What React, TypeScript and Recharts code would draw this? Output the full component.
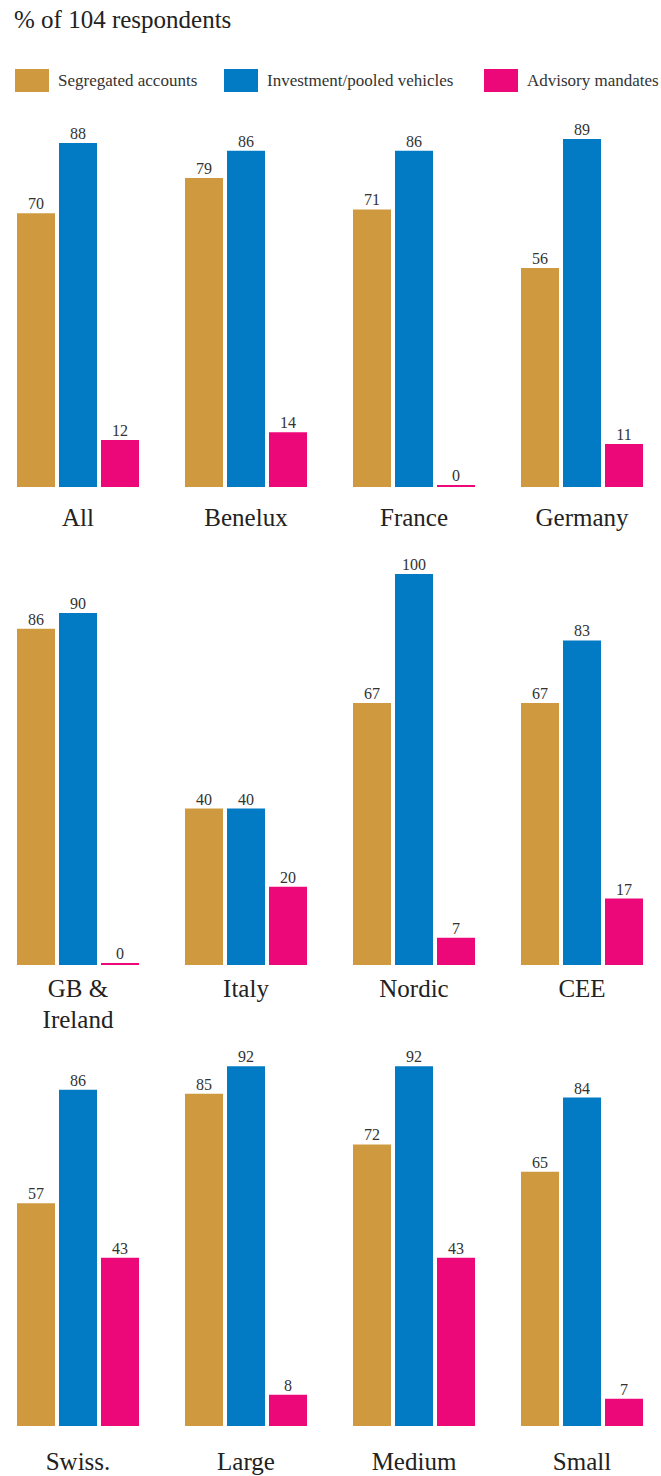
import { Bar, BarChart, LabelList, XAxis, YAxis } from "recharts";

const categories = ["All", "Benelux", "France", "Germany", "GB &\nIreland", "Italy", "Nordic", "CEE", "Swiss.", "Large", "Medium", "Small"];
const segregated = [70, 79, 71, 56, 86, 40, 67, 67, 57, 85, 72, 65];
const investment = [88, 86, 86, 89, 90, 40, 100, 83, 86, 92, 92, 84];
const advisory = [12, 14, 0, 11, 0, 20, 7, 17, 43, 8, 43, 7];

const seriesNames = ["Segregated accounts", "Investment/pooled vehicles", "Advisory mandates"];
const colors = ["#CF9A3F", "#027BC4", "#EC0879"];

const FONT = "'Liberation Serif', 'DejaVu Serif', 'Times New Roman', serif";

const rows = [
  { top: 60, labelDy: 31 },
  { top: 538, labelDy: 24 },
  { top: 999, labelDy: 36 },
];

const makeTick = (labelDy: number) => (props: any) => {
  const { x, y, payload } = props;
  const lines = String(payload.value).split("\n");
  return (
    <text x={x} y={y + labelDy} textAnchor="middle" fontSize={25} fill="#222" fontFamily={FONT}>
      {lines.map((line, i) => (
        <tspan key={line} x={x} dy={i === 0 ? 0 : 31}>
          {line}
        </tspan>
      ))}
    </text>
  );
};

export default function App() {
  const data = categories.map((name, i) => ({
    name,
    seg: segregated[i],
    inv: investment[i],
    adv: advisory[i],
  }));

  return (
    <div style={{ position: "relative", width: 661, height: 1476, overflow: "hidden", fontFamily: FONT, color: "#222" }}>
      <style>{`body{margin:0}`}</style>
      <div style={{ position: "absolute", left: 14, top: 6, fontSize: 25 }}>% of 104 respondents</div>
      {seriesNames.map((s, i) => (
        <div key={s} style={{ position: "absolute", top: 69, left: [15, 224, 484][i], display: "flex", alignItems: "center" }}>
          <div style={{ width: 34, height: 23, background: colors[i] }} />
          <span style={{ marginLeft: 9, fontSize: 17, color: "#333" }}>{s}</span>
        </div>
      ))}
      {rows.map((row, r) => (
        <div key={r} style={{ position: "absolute", left: -6, top: row.top }}>
          <BarChart
            width={672}
            height={527}
            data={data.slice(r * 4, r * 4 + 4)}
            margin={{ top: 36, right: 0, left: 0, bottom: 0 }}
            barSize={38}
            barGap={4}
          >
            <XAxis dataKey="name" height={100} axisLine={false} tickLine={false} interval={0} tick={makeTick(row.labelDy)} />
            <YAxis hide domain={[0, 100]} />
            <Bar dataKey="seg" fill={colors[0]} isAnimationActive={false}>
              <LabelList dataKey="seg" position="top" offset={4} fontSize={16} fill="#333" fontFamily={FONT} />
            </Bar>
            <Bar dataKey="inv" fill={colors[1]} isAnimationActive={false}>
              <LabelList dataKey="inv" position="top" offset={4} fontSize={16} fill="#333" fontFamily={FONT} />
            </Bar>
            <Bar dataKey="adv" fill={colors[2]} minPointSize={2} isAnimationActive={false}>
              <LabelList dataKey="adv" position="top" offset={4} fontSize={16} fill="#333" fontFamily={FONT} />
            </Bar>
          </BarChart>
        </div>
      ))}
    </div>
  );
}
